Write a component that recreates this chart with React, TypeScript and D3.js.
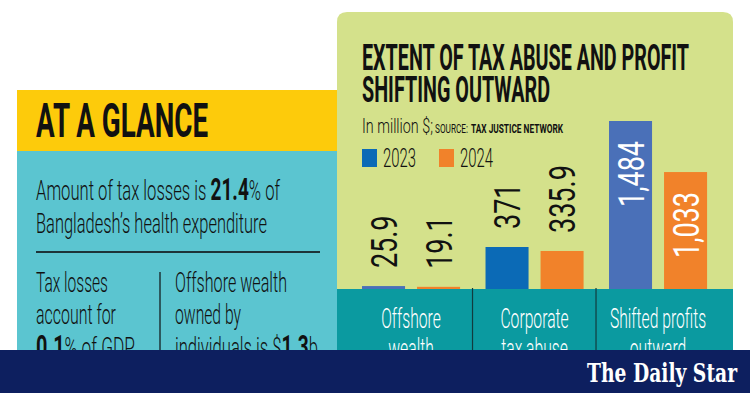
import React from 'react';
import * as d3 from 'd3';

// chart data
const categories = ['Offshore wealth', 'Corporate tax abuse', 'Shifted profits outward'];
const categoryLines = [['Offshore', 'wealth'], ['Corporate', 'tax abuse'], ['Shifted profits', 'outward']];
const years = ['2023', '2024'];
const values2023 = [25.9, 371, 1484];
const values2024 = [19.1, 335.9, 1033];

const COND = "Roboto, 'Open Sans', sans-serif";
const blue = ['#4a70b8', '#0b6ab6', '#4a70b8'];
const orange = '#f1822a';

const App = () => {
  const W = 750;
  const H = 393;

  const x0 = d3.scaleBand().domain(categories).range([349.3, 719.8]).paddingInner(0.206).paddingOuter(0.103);
  const x1 = d3.scaleBand().domain(years).range([0, x0.bandwidth()]).paddingInner(0.218).paddingOuter(0);
  const y = d3.scaleLinear().domain([0, 1484]).range([289, 121]);
  const fmt = d3.format(',');

  const bars = categories.flatMap((c, i) => [
    { c, i, year: '2023', v: values2023[i], fill: blue[i] },
    { c, i, year: '2024', v: values2024[i], fill: orange },
  ]);

  return (
    <svg width={W} height={H} style={{ position: 'absolute', left: 0, top: 0, background: '#fff' }}>
      {/* left panel */}
      <rect x={17} y={90} width={322} height={61} fill="#fdcb0b" />
      <rect x={17} y={151} width={322} height={199} fill="#5bc5d0" />
      <text x={36} y={137} fontFamily={COND} fontWeight={700} fontSize={48} textLength={172} lengthAdjust="spacingAndGlyphs" fill="#111">
        AT A GLANCE
      </text>
      <text x={36} y={200} fontFamily={COND} fontWeight={300} fontSize={27} textLength={244} lengthAdjust="spacingAndGlyphs" fill="#111">
        Amount of tax losses is <tspan fontWeight={700} fontSize={31}>21.4</tspan>% of
      </text>
      <text x={36} y={233} fontFamily={COND} fontWeight={300} fontSize={27} textLength={231} lengthAdjust="spacingAndGlyphs" fill="#111">
        Bangladesh’s health expenditure
      </text>
      <line x1={36} x2={320} y1={252} y2={252} stroke="#1d3438" strokeWidth={2} />
      <line x1={160} x2={160} y1={272} y2={350} stroke="#1d3438" strokeWidth={1.5} />
      <text x={36} y={292} fontFamily={COND} fontWeight={300} fontSize={27} textLength={72} lengthAdjust="spacingAndGlyphs" fill="#111">Tax losses</text>
      <text x={36} y={324} fontFamily={COND} fontWeight={300} fontSize={27} textLength={80} lengthAdjust="spacingAndGlyphs" fill="#111">account for</text>
      <text x={36} y={357} fontFamily={COND} fontWeight={300} fontSize={27} textLength={99} lengthAdjust="spacingAndGlyphs" fill="#111">
        <tspan fontWeight={700} fontSize={31}>0.1</tspan>% of GDP
      </text>
      <text x={175} y={292} fontFamily={COND} fontWeight={300} fontSize={27} textLength={112} lengthAdjust="spacingAndGlyphs" fill="#111">Offshore wealth</text>
      <text x={175} y={324} fontFamily={COND} fontWeight={300} fontSize={27} textLength={66} lengthAdjust="spacingAndGlyphs" fill="#111">owned by</text>
      <text x={175} y={357} fontFamily={COND} fontWeight={300} fontSize={27} textLength={143} lengthAdjust="spacingAndGlyphs" fill="#111">
        individuals is $<tspan fontWeight={700} fontSize={31}>1.3</tspan>b
      </text>

      {/* chart panel */}
      <path d="M337,289 V22 Q337,12 347,12 H723 Q733,12 733,22 V289 Z" fill="#d4e18b" />
      <rect x={337} y={289} width={396} height={61} fill="#0b9aa0" />
      <text x={362} y={70} fontFamily={COND} fontWeight={700} fontSize={37} textLength={327} lengthAdjust="spacingAndGlyphs" fill="#111">
        EXTENT OF TAX ABUSE AND PROFIT
      </text>
      <text x={362} y={102} fontFamily={COND} fontWeight={700} fontSize={37} textLength={188} lengthAdjust="spacingAndGlyphs" fill="#111">
        SHIFTING OUTWARD
      </text>
      <text x={362} y={133} fontFamily={COND} fontWeight={300} fontSize={21} textLength={71} lengthAdjust="spacingAndGlyphs" fill="#111">In million $;</text>
      <text x={435} y={133} fontFamily={COND} fontWeight={400} fontSize={13} textLength={33} lengthAdjust="spacingAndGlyphs" fill="#111">SOURCE:</text>
      <text x={471} y={133} fontFamily={COND} fontWeight={700} fontSize={13} textLength={92} lengthAdjust="spacingAndGlyphs" fill="#111">TAX JUSTICE NETWORK</text>

      {/* legend */}
      {years.map((yr, k) => (
        <g key={yr} transform={`translate(${362 + k * 77},149)`}>
          <rect width={15} height={18} fill={k === 0 ? '#0b6ab6' : orange} />
          <text x={21} y={18} fontFamily={COND} fontWeight={300} fontSize={25} textLength={33} lengthAdjust="spacingAndGlyphs" fill="#111">{yr}</text>
        </g>
      ))}

      {/* bars */}
      {bars.map((b) => {
        const bx = (x0(b.c) ?? 0) + (x1(b.year) ?? 0);
        const top = y(b.v);
        const cx = bx + x1.bandwidth() / 2;
        const inside = y(0) - top > 100;
        return (
          <g key={b.c + b.year}>
            <rect x={bx} y={top} width={x1.bandwidth()} height={y(0) - top} fill={b.fill} />
            <g transform={`translate(${cx + 13},${inside ? top + 20 : top - 18}) rotate(-90) scale(0.75,1)`}>
              <text fontFamily={COND} fontWeight={400} fontSize={36} textAnchor={inside ? 'end' : 'start'} fill={inside ? '#fff' : '#111'}>
                {fmt(b.v)}
              </text>
            </g>
          </g>
        );
      })}

      {/* category band */}
      {categories.slice(1).map((c) => (
        <line key={c} x1={(x0(c) ?? 0) - 13} x2={(x0(c) ?? 0) - 13} y1={288} y2={350} stroke="#123b3e" strokeWidth={1.2} />
      ))}
      {categories.map((c, i) => (
        <g key={c} transform={`translate(${(x0(c) ?? 0) + x0.bandwidth() / 2},0)`}>
          {categoryLines[i].map((ln, j) => (
            <g key={ln} transform={`translate(0,${328 + j * 30}) scale(0.56,1)`}>
              <text fontFamily={COND} fontWeight={300} fontSize={28} textAnchor="middle" fill="#fff">{ln}</text>
            </g>
          ))}
        </g>
      ))}

      {/* footer */}
      <rect x={0} y={350} width={W} height={43} fill="#0d1f5f" />
      <text x={587} y={382} fontFamily="'DejaVu Serif', serif" fontWeight={700} fontSize={26} textLength={150} lengthAdjust="spacingAndGlyphs" fill="#fff">
        The Daily Star
      </text>
    </svg>
  );
};

export default App;
